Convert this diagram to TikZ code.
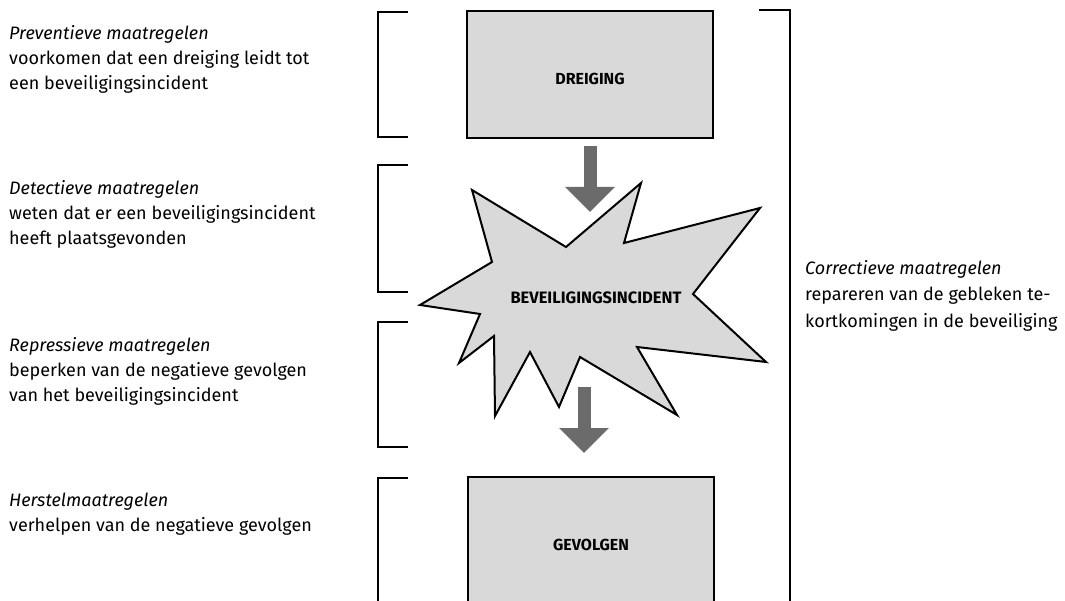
\documentclass[tikz,border=0pt]{standalone}
\usepackage{fontspec}
\setmainfont{Fira Sans}
\usetikzlibrary{arrows.meta}
\definecolor{boxgray}{RGB}{217,217,217}
\definecolor{arrowgray}{RGB}{107,107,107}
\begin{document}
\begin{tikzpicture}[x=1pt, y=-1pt,
        box/.style={draw, line width=2pt, fill=boxgray, minimum width=246pt, inner sep=0pt,
            text height=20pt, text depth=0pt, font=\fontsize{16}{18}\selectfont\bfseries},
        brk/.style={line width=2pt},
        blockarrow/.style={arrowgray, line width=13pt, -{Triangle[width=48pt,length=25pt]}},
        note/.style={anchor=base west, align=left, inner sep=0pt,
            font=\fontsize{18}{25}\selectfont}]
    \useasboundingbox (0,0) rectangle (1065,601);
    \clip (0,0) rectangle (1065,601);
    % brackets
    \foreach \t/\b in {12/137, 165/292, 322/447, 478/640}
        \draw[brk] (408,\t) -- (378,\t) -- (378,\b) -- (408,\b);
    \draw[brk] (759,10) -- (790,10) -- (790,640);
    % texts (anchored at the baseline of the last line)
    \node[note] (prev) at (9,90) {\textit{Preventieve maatregelen}\\voorkomen dat een dreiging leidt tot\\een beveiligingsincident};
    \node[note] (detc) at (9,245) {\textit{Detectieve maatregelen}\\weten dat er een beveiligingsincident\\heeft plaatsgevonden};
    \node[note] (repr) at (9,401) {\textit{Repressieve maatregelen}\\beperken van de negatieve gevolgen\\van het beveiligingsincident};
    \node[note] (herst) at (9,531) {\textit{Herstelmaatregelen}\\verhelpen van de negatieve gevolgen};
    \node[note, font=\fontsize{18}{26}\selectfont] (corr) at (805,327) {\textit{Correctieve maatregelen}\\repareren van de gebleken te-\\kortkomingen in de beveiliging};
    % boxes
    \node[box, minimum height=127pt] (dreiging) at (590,74.5) {DREIGING};
    \node[box, minimum height=128pt] (gevolgen) at (591,540.5) {GEVOLGEN};
    % star
    \draw[line width=2pt, fill=boxgray, line join=miter]
        (472,190) -- (566,247) -- (641,183) -- (624,243) -- (760,208) -- (693,294)
        -- (766,362) -- (637,347) -- (677,415) -- (580,357) -- (559,407) -- (530,352)
        -- (495,416) -- (494,336) -- (459,363) -- (480,314) -- (420,305) -- (492,262) -- cycle;
    \node[font=\fontsize{16.5}{18}\selectfont\bfseries] (incident) at (596,298) {BEVEILIGINGSINCIDENT};
    % arrows
    \coordinate (tip1) at (590,212);
    \coordinate (tail2) at (584,387);
    \coordinate (tip2) at (584,453);
    \draw[blockarrow] ([yshift=-7pt]dreiging.south) -- (tip1);
    \draw[blockarrow] (tail2) -- (tip2);
\end{tikzpicture}
\end{document}
